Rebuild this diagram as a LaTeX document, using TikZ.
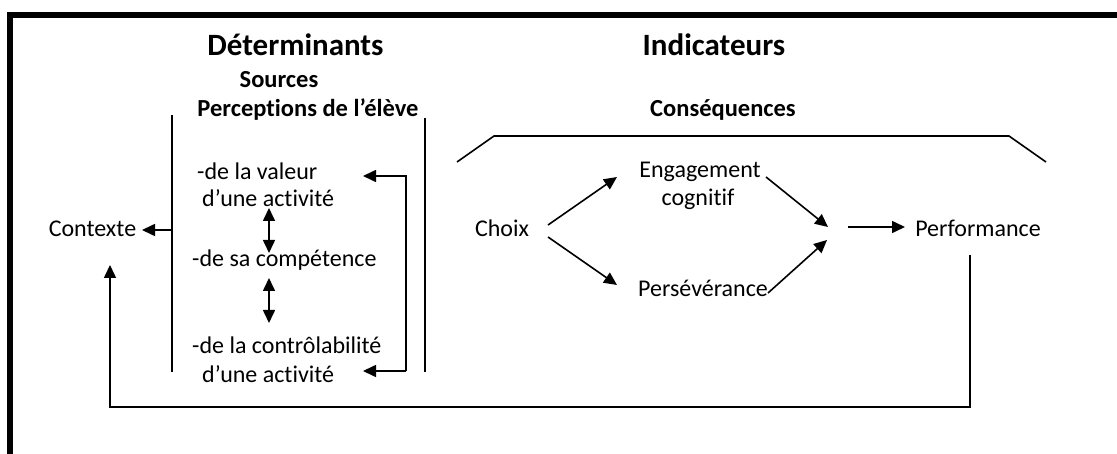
\documentclass[tikz,border=0pt]{standalone}
\usepackage{fontspec}
\setmainfont{Carlito}[Ligatures=NoCommon]
\usetikzlibrary{arrows.meta}
\begin{document}
\begin{tikzpicture}[x=1pt,y=-1pt,
  txt/.style={inner sep=0pt, anchor=base, font=\fontsize{24}{28}\selectfont},
  txtw/.style={txt, anchor=base west},
  head/.style={inner sep=0pt, anchor=base, font=\fontsize{31}{35}\selectfont\bfseries},
  sub/.style={inner sep=0pt, anchor=base, font=\fontsize{24.5}{28}\selectfont\bfseries},
  ln/.style={line width=1.6pt},
  arr/.style={ln,-{Triangle[length=13pt,width=12pt]}},
  darr/.style={ln,{Triangle[length=13pt,width=12pt]}-{Triangle[length=13pt,width=12pt]}},
  framel/.style={line width=6pt}]
\useasboundingbox (0,0) rectangle (1117,454);
% frame
\draw[framel] (10,454) -- (10,15) -- (1117,15);
% headings
\node[head] (det) at (295.5,56) {Déterminants};
\node[head] (ind) at (714,56) {Indicateurs};
\node[sub] (src) at (279,88) {Sources};
\node[sub] (perc) at (308,117) {Perceptions de l’élève};
\node[sub] (cons) at (723,117) {Conséquences};
% perceptions
\node[txtw] (v1) at (197,180) {-de la valeur};
\node[txtw] (v2) at (202,207) {d’une activité};
\node[txtw] (comp) at (192,267) {-de sa compétence};
\node[txtw] (c1) at (192,354) {-de la contrôlabilité};
\node[txtw] (c2) at (202,383) {d’une activité};
% others
\node[txt] (ctx) at (92.5,237) {Contexte};
\node[txt] (choix) at (502,237) {Choix};
\node[txt] (eng1) at (700,178) {Engagement};
\node[txt] (eng2) at (698,206) {cognitif};
\node[txt] (pers) at (703,297) {Persévérance};
\node[txt] (perf) at (978,237) {Performance};
% bracket lines
\coordinate (bl1) at (172,115); \coordinate (bl2) at (172,372);
\coordinate (blm) at (172,230); \coordinate (ctxt) at (142,230);
\coordinate (br1) at (425,118); \coordinate (br2) at (425,372);
\draw[ln] (bl1) -- (bl2);
\draw[ln] (br1) -- (br2);
\draw[arr] (blm) -- (ctxt);
% return arrows
\coordinate (rt) at (406,176); \coordinate (rb) at (406,371);
\coordinate (rtt) at (363,176); \coordinate (rbt) at (363,371);
\draw[arr] (rb) -- (rt) -- (rtt);
\draw[arr] (rb) -- (rbt);
% double arrows
\coordinate (d1a) at (269,208); \coordinate (d1b) at (269,253);
\coordinate (d2a) at (269,278); \coordinate (d2b) at (269,323);
\draw[darr] (d1a) -- (d1b);
\draw[darr] (d2a) -- (d2b);
% consequences bracket
\coordinate (k1) at (457,162); \coordinate (k2) at (494,136);
\coordinate (k3) at (1009,136); \coordinate (k4) at (1046,162);
\draw[ln] (k1) -- (k2) -- (k3) -- (k4);
% flow arrows
\coordinate (ca) at (548,225); \coordinate (cat) at (617,177);
\coordinate (cb) at (548,237); \coordinate (cbt) at (617,285);
\draw[arr] (ca) -- (cat);
\draw[arr] (cb) -- (cbt);
\coordinate (ea) at (766,177); \coordinate (eat) at (828,227);
\coordinate (pa) at (768,293); \coordinate (pat) at (827,240);
\draw[arr] (ea) -- (eat);
\draw[arr] (pa) -- (pat);
\coordinate (ma) at (848,227); \coordinate (mat) at (905,227);
\draw[arr] (ma) -- (mat);
% feedback loop
\coordinate (fb1) at (970,255); \coordinate (fbc) at (110,407);
\coordinate (fbt) at (110,265);
\draw[arr] (fb1) |- (fbc) -- (fbt);
\end{tikzpicture}
\end{document}
